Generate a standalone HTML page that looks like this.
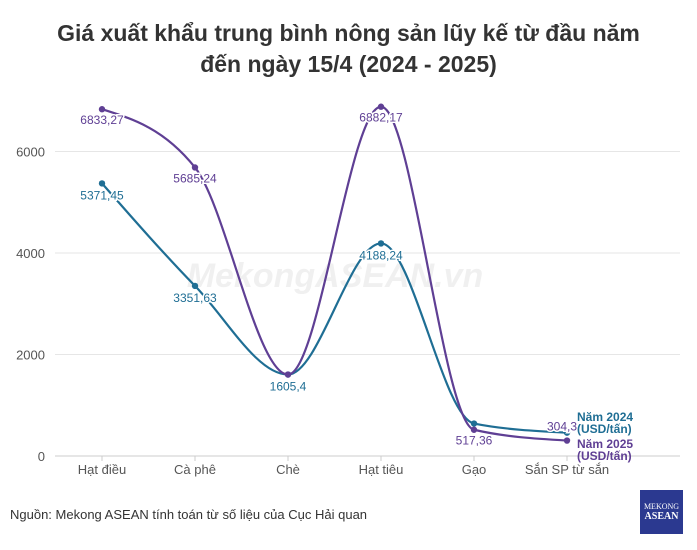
<!DOCTYPE html>
<html><head><meta charset="utf-8"><style>
body{margin:0;background:#fff;font-family:"Liberation Sans",sans-serif;}
#wrap{position:relative;width:697px;height:550px;overflow:hidden;}
h1{position:absolute;left:0;top:18px;width:697px;margin:0;text-align:center;font-size:23px;line-height:31px;font-weight:bold;color:#333;}
.src{position:absolute;left:10px;top:507px;font-size:13px;color:#333;}
.logo{position:absolute;left:640px;top:490px;width:43px;height:44px;background:#2b3990;color:#fff;text-align:center;font-family:"Liberation Serif",serif;}
</style></head><body>
<div id="wrap">
<h1>Giá xuất khẩu trung bình nông sản lũy kế từ đầu năm<br>đến ngày 15/4 (2024 - 2025)</h1>
<svg id="chart" width="697" height="550" style="position:absolute;left:0;top:0"></svg>
<div class="src">Nguồn: Mekong ASEAN tính toán từ số liệu của Cục Hải quan</div>
<div class="logo"><div style="font-size:8px;margin-top:12px">MEKONG</div><div style="font-size:10px;font-weight:bold">ASEAN</div></div>
</div>
<script>
const categories=["Hạt điều","Cà phê","Chè","Hạt tiêu","Gạo","Sắn SP từ sắn"];
const values2024=[5371.45,3351.63,1605.4,4188.24,640,460];
const values2025=[6833.27,5685.24,1605.4,6882.17,517.36,304.3];
const labels2024=["5371,45","3351,63","1605,4","4188,24","",""];
const labels2025=["6833,27","5685,24","","6882,17","517,36","304,3"];
const yTicks=[0,2000,4000,6000];
const NS="http://www.w3.org/2000/svg";
const svg=document.getElementById('chart');
const x=i=>102+i*93, y=v=>456-v*0.05075;
function mk(t,a){const e=document.createElementNS(NS,t);for(const k in a)e.setAttribute(k,a[k]);svg.appendChild(e);return e;}
yTicks.forEach(t=>{
 const l=mk('line',{x1:55,x2:680,y1:y(t),y2:y(t),stroke:t?'#e6e6e6':'#ccc','stroke-width':1});
 
 
 const tx=mk('text',{x:45,y:y(t)+5,'text-anchor':'end','font-size':13,fill:'#555'});tx.textContent=t;
 
 
});
categories.forEach((c,i)=>{
 mk('line',{x1:x(i),x2:x(i),y1:456,y2:461,stroke:'#ccc'});
 const tx=mk('text',{x:x(i),y:474,'text-anchor':'middle','font-size':13,fill:'#555'});tx.textContent=c;
 
 
});
const wm=mk('text',{x:335,y:287,'text-anchor':'middle','font-size':34,'font-style':'italic','font-weight':'bold',fill:'#000','fill-opacity':0.06});wm.textContent='MekongASEAN.vn';


function path(vals){
 const p=vals.map((v,i)=>[x(i),y(v)]);const n=p.length;
 const s=[];for(let i=0;i<n-1;i++)s.push((p[i+1][1]-p[i][1])/(p[i+1][0]-p[i][0]));
 const m=[];
 for(let i=0;i<n;i++){
  if(i===0||i===n-1){m.push(null);continue;}
  const s0=s[i-1],s1=s[i],h0=p[i][0]-p[i-1][0],h1=p[i+1][0]-p[i][0];
  const pp=(s0*h1+s1*h0)/(h0+h1);
  m.push((Math.sign(s0)+Math.sign(s1))*Math.min(Math.abs(s0),Math.abs(s1),0.5*Math.abs(pp))||0);
 }
 m[0]=n>2?(3*s[0]-m[1])/2:s[0];
 m[n-1]=n>2?(3*s[n-2]-m[n-2])/2:s[n-2];
 let d='M'+p[0];
 for(let i=0;i<n-1;i++){const dx=(p[i+1][0]-p[i][0])/3;
  d+=' C'+(p[i][0]+dx)+','+(p[i][1]+dx*m[i])+' '+(p[i+1][0]-dx)+','+(p[i+1][1]-dx*m[i+1])+' '+p[i+1];}
 return d;}
function series(vals,labs,col,name,dy){
 const pa=mk('path',{d:path(vals),fill:'none',stroke:col,'stroke-width':2.2});
 
 
 vals.forEach((v,i)=>{const c=mk('circle',{cx:x(i),cy:y(v),r:3.2,fill:col});
  
  
  if(labs[i]){const last=i===vals.length-1;
  const t=mk('text',{x:x(i)-(last?5:0),y:y(v)+(last?-10:dy),'text-anchor':'middle','font-size':12,fill:col,stroke:'#fff','stroke-width':3,'paint-order':'stroke'});t.textContent=labs[i];
  
  }
 });
}
series(values2024,labels2024,'#1f6e94','series-2024',16);
series(values2025,labels2025,'#5f3f94','series-2025',15);
function leg(txt,yy,col,n){[txt,'(USD/tấn)'].forEach((s,k)=>{const t=mk('text',{x:577,y:yy+k*12,'font-size':12,'font-weight':'bold',fill:col});t.textContent=s;
 
 });}
leg('Năm 2024',421,'#1f6e94','legend-2024');
leg('Năm 2025',448,'#5f3f94','legend-2025');
</script>
</body></html>
